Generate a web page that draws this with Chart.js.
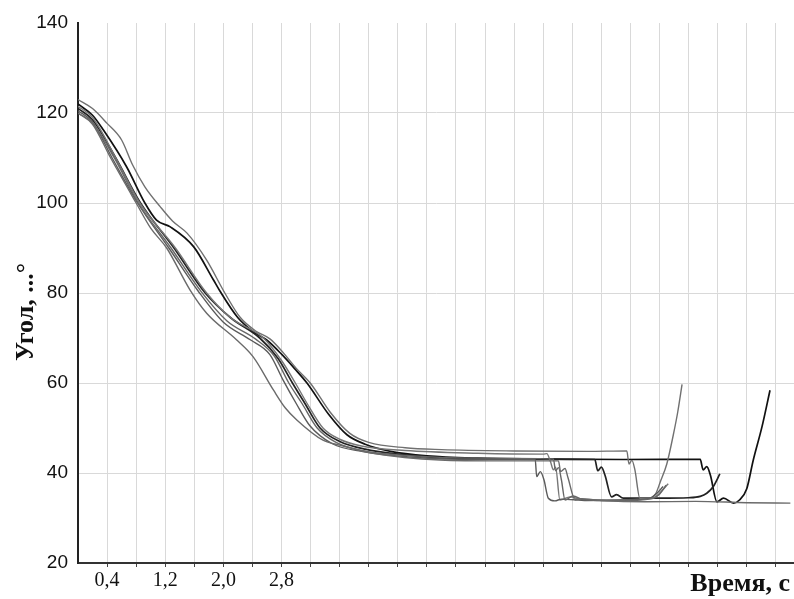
<!DOCTYPE html>
<html><head><meta charset="utf-8">
<script src="https://cdn.jsdelivr.net/npm/chart.js@4.4.1/dist/chart.umd.min.js"></script>
<style>html,body{margin:0;padding:0;background:#fff}#wrap{width:794px;height:599px}</style>
</head><body><div id="wrap"><canvas id="c" width="794" height="599"></canvas></div>
<script>
// Tick values and labels
const xTicks = [0.4,0.8,1.2,1.6,2.0,2.4,2.8,3.2,3.6,4.0,4.4,4.8,5.2,5.6,6.0,6.4,6.8,7.2,7.6,8.0,8.4,8.8,9.2,9.6];
const xLabelValues = [0.4,1.2,2.0,2.8];
const xLabelTexts = ["0,4","1,2","2,0","2,8"];
const yTicks = [20,40,60,80,100,120,140];

// Series (time, angle)
const tA = [0,0.2,0.4,0.6,0.75,0.92,1.13,1.3,1.5,1.77,2.02,2.23,2.45,2.64,2.82,3.0,3.2,3.47,3.74,4.0,4.5,5.0,6.0,7.0,7.55,7.58,7.62,7.66,7.73,7.87,7.95,8.01,8.1,8.19,8.25,8.31];
const vA = [123,121,117.7,114,108.5,103.6,99.2,96,93.3,87.3,80,74.6,71.5,69.8,66.8,63.3,59.9,53.5,48.8,46.8,45.6,45.2,44.9,44.8,44.9,42,42.8,40.8,34.4,34.4,35.5,38,42,48.5,53.5,59.7];

const tB = [0,0.2,0.35,0.67,0.92,1.08,1.27,1.59,1.86,1.95,2.2,2.42,2.6,2.8,2.98,3.15,3.45,3.7,3.95,4.3,4.8,5.5,6.5,7.5,8.56,8.6,8.65,8.7,8.79,8.88,9.02,9.1,9.2,9.29,9.41,9.52];
const vB = [122,119.5,116.2,108,100,96.2,94.7,90.3,83,80.5,74.5,71.3,69.5,66.4,63.2,60,53,48.5,46.4,44.8,43.8,43.3,43.1,43,43.05,40.7,41.4,39.5,33.6,34.4,33.3,34,36.5,42.9,50.3,58.4];

const tC = [0,0.2,0.52,0.86,1.32,1.75,2.1,2.5,2.75,2.95,3.12,3.33,3.6,3.95,4.8,6.0,7.11,7.15,7.2,7.25,7.34,7.41,7.5,8.0,8.4,8.56,8.65,8.74,8.83];
const vC = [121,118.5,110,100,90,80,74.5,70,65.5,60,55.5,50,47,45.3,43.6,43.1,43,40.5,41.3,39.5,34.7,35.2,34.4,34.4,34.5,34.8,35.5,37,39.8];

const tD1 = [0,0.2,0.47,0.82,1.25,1.65,2.0,2.37,2.64,2.82,3.0,3.19,3.5,3.9,4.6,5.5,6.29,6.31,6.36,6.41,6.47,6.56,6.65,7.0,7.5,7.85,7.95,8.05];
const vD1 = [120.5,118,110,100,90,80.5,73.5,69.6,66.3,60.7,55.5,50.5,46.5,44.8,43.5,43,43,39.2,40.3,38.5,34.4,33.8,34.2,33.9,34,34.3,35.3,37];

const tD2 = [0,0.2,0.52,0.85,1.34,1.77,2.1,2.55,2.8,2.99,3.15,3.37,3.6,3.9,4.5,5.5,6.4,6.45,6.5,6.54,6.57,6.63,6.77,6.9,7.3,7.9,8.0,8.12];
const vD2 = [121.5,119,110,100,90,80,74.5,70,65,60,55.5,50,47.5,46,45,44.4,44.2,44.3,42.5,40.7,41.3,34,34.7,34.2,34,34.4,35.5,37.6];

const tD3 = [0,0.2,0.5,0.83,1.28,1.7,2.05,2.44,2.7,2.9,3.08,3.29,3.55,3.9,4.6,5.5,6.54,6.57,6.61,6.65,6.7,6.81,6.95,7.4,7.9,8.0,8.09];
const vD3 = [120,117.8,110,100,90,80.2,73.8,69.8,66,60,55.5,50,46.8,45,43.8,43.3,43.1,40.5,41.2,38.5,34,34.9,34.1,33.8,34.3,35.3,37.3];

const tE = [0,0.2,0.45,0.80,1.0,1.22,1.54,1.77,2.18,2.41,2.69,2.85,3.01,3.37,3.6,4.06,4.98,5.8,6.61,6.64,6.7,6.74,6.84,6.92,7.2,7.8,8.5,9.2,9.8];
const vE = [120,117.5,110,100,94.4,90,80.7,75.5,69.6,65.8,58.4,54.5,51.8,47.3,46.2,44.4,42.9,42.7,42.7,40.3,41,39,34,34.3,33.9,33.6,33.7,33.4,33.3];

const series = [
  {t:tE, v:vE, color:'#6a6a6a', w:1.4},
  {t:tD3, v:vD3, color:'#666666', w:1.4},
  {t:tD1, v:vD1, color:'#5a5a5a', w:1.4},
  {t:tD2, v:vD2, color:'#777777', w:1.4},
  {t:tA, v:vA, color:'#707070', w:1.4},
  {t:tC, v:vC, color:'#222222', w:1.7},
  {t:tB, v:vB, color:'#111111', w:1.7}
];

const titlesPlugin = {
  id:'titles',
  afterDraw(chart){
    const ctx = chart.ctx;
    ctx.save();
    ctx.fillStyle = '#111';
    ctx.font = 'bold 26px "Liberation Serif", "Times New Roman", serif';
    ctx.textAlign = 'right';
    ctx.textBaseline = 'alphabetic';
    ctx.fillText('Время, с', 790, 591);
    ctx.translate(33, 312);
    ctx.rotate(-Math.PI/2);
    ctx.textAlign = 'center';
    ctx.fillText('Угол, ...°', 0, 0);
    ctx.restore();
  }
};

new Chart(document.getElementById('c'), {
  type: 'line',
  data: {
    datasets: series.map(s => ({
      data: s.t.map((t,i) => ({x:t, y:s.v[i]})),
      borderColor: s.color,
      borderWidth: s.w,
      pointRadius: 0,
      fill: false,
      tension: 0,
      cubicInterpolationMode: 'monotone'
    }))
  },
  options: {
    responsive: false,
    devicePixelRatio: 1,
    animation: false,
    layout: {padding: {top: 23, right: 0, left: 0, bottom: 0}},
    plugins: {legend: {display:false}, tooltip:{enabled:false}},
    scales: {
      x: {
        type: 'linear', min: 0, max: 9.85,
        afterBuildTicks: s => { s.ticks = xTicks.map(v => ({value:v})); },
        afterFit: s => { s.height = 36; },
        grid: {color:'#d9d9d9', lineWidth:1, drawTicks:true, tickLength:4, tickColor:'#444'},
        border: {display:true, color:'#333', width:2},
        ticks: {
          autoSkip:false, maxRotation:0, padding:2, color:'#111',
          font: {family:'"Liberation Serif", "Times New Roman", serif', size:20},
          callback: v => { const i = xLabelValues.findIndex(x => Math.abs(x-v) < 1e-6); return i >= 0 ? xLabelTexts[i] : ''; }
        }
      },
      y: {
        type: 'linear', min: 20, max: 140,
        afterBuildTicks: s => { s.ticks = yTicks.map(v => ({value:v})); },
        afterFit: s => { s.width = 78; },
        grid: {color: c => (c.tick && (c.tick.value === 140 || c.tick.value === 20)) ? 'rgba(0,0,0,0)' : '#d9d9d9', lineWidth:1, drawTicks:false},
        border: {display:true, color:'#222', width:2},
        ticks: {
          padding:10, color:'#111',
          font: {family:'"Liberation Sans", Arial, sans-serif', size:19}
        }
      }
    }
  },
  plugins: [titlesPlugin]
});
</script>
</body></html>
